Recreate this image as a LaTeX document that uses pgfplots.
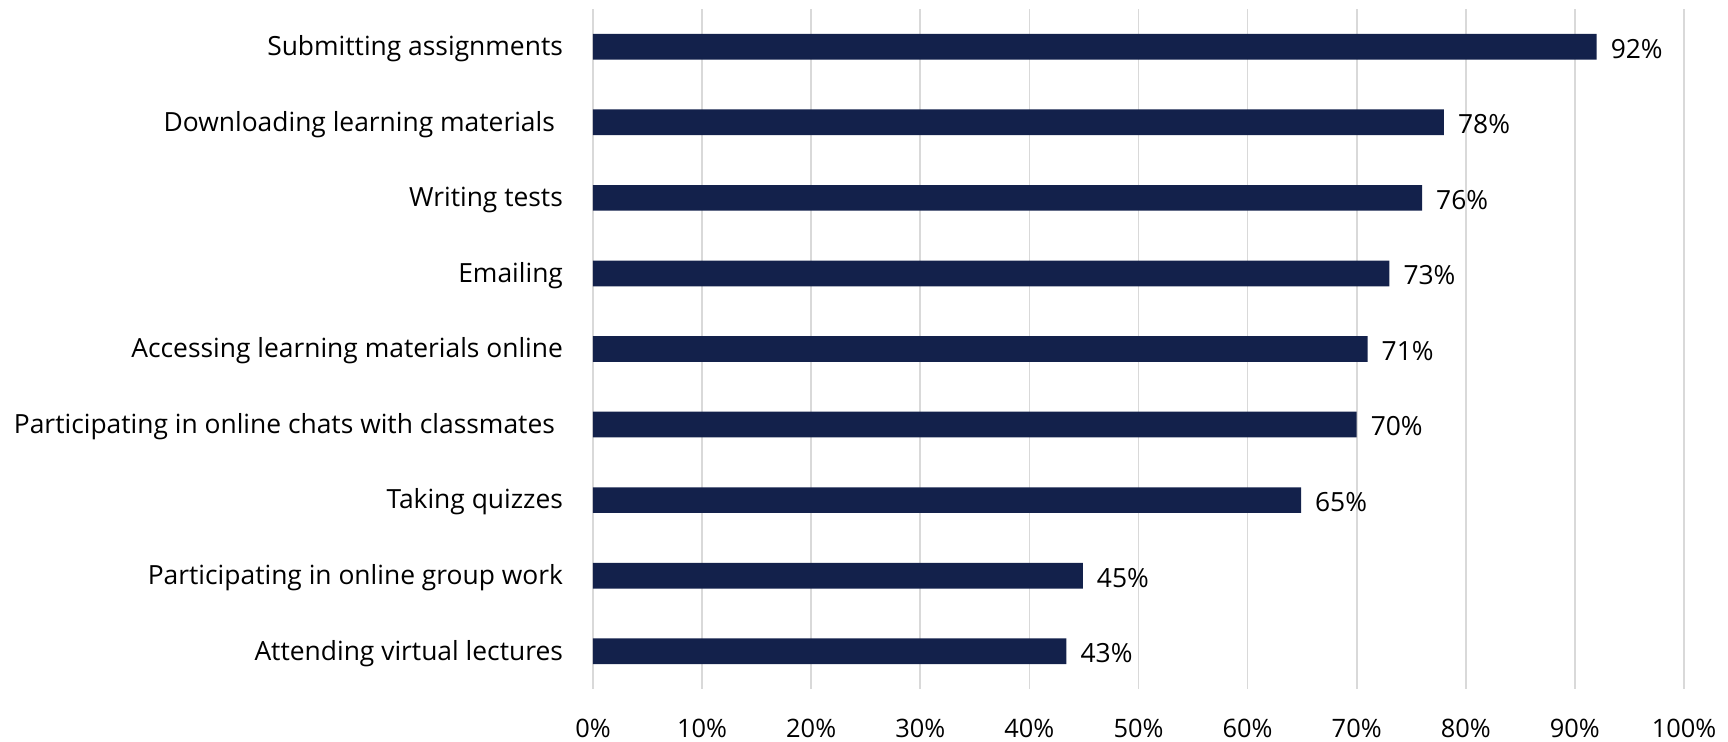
\documentclass[border=0pt]{standalone}
\usepackage{fontspec}
\setmainfont{Open Sans}
\usepackage{pgfplots}
\pgfplotsset{compat=1.18}
\definecolor{barnavy}{HTML}{13214B}
\definecolor{gridgray}{HTML}{D9D9D9}
\begin{document}
\begin{tikzpicture}
\useasboundingbox (-296.5pt,-26.5pt) rectangle (567.5pt,344.5pt);
\begin{axis}[
  at={(0pt,0pt)}, anchor=south west,
  scale only axis, width=545.5pt, height=340pt,
  xbar, bar width=0.34,
  xmin=0, xmax=100, ymin=-0.5, ymax=8.5,
  xtick={0,10,...,100},
  xticklabel={\pgfmathprintnumber{\tick}\%},
  /pgf/number format/assume math mode=true,
  ytick={0,...,8},
  yticklabels={Attending virtual lectures, Participating in online group work, Taking quizzes, {Participating in online chats with classmates\kern4pt\null}, Accessing learning materials online, Emailing, Writing tests, {Downloading learning materials\kern4pt\null}, Submitting assignments},
  xmajorgrids, major grid style={gridgray, line width=0.8pt},
  axis line style={draw=none},
  major tick length=0pt,
  tick label style={text=black},
  xticklabel style={font=\fontsize{12.7}{15}\selectfont, yshift=-11.5pt},
  yticklabel style={font=\fontsize{13.2}{15}\selectfont, xshift=-11.5pt, yshift=-1pt},
  point meta=explicit symbolic,
  nodes near coords,
  nodes near coords style={font=\fontsize{13.2}{15}\selectfont, text=black, anchor=west, xshift=3.5pt, yshift=-1pt},
  clip=false,
]
\addplot[fill=barnavy, draw=none] coordinates {
(43.4,0) [43\%]
(44.9,1) [45\%]
(64.9,2) [65\%]
(70,3) [70\%]
(71,4) [71\%]
(73,5) [73\%]
(76,6) [76\%]
(78,7) [78\%]
(92,8) [92\%]
};
\end{axis}
\end{tikzpicture}
\end{document}
